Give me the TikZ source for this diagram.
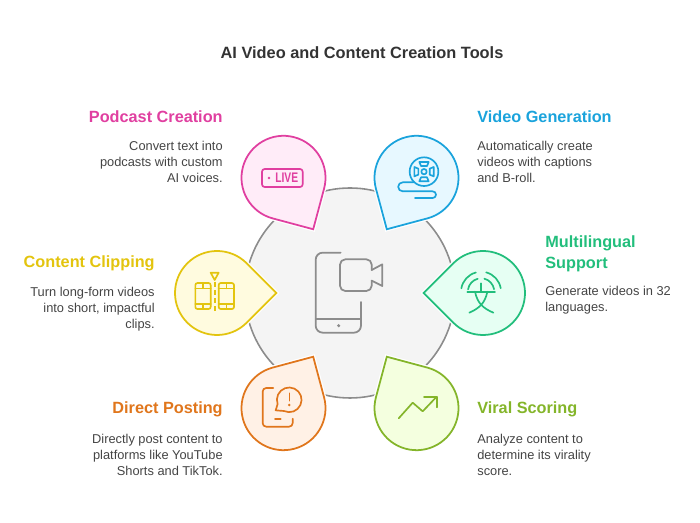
\documentclass[tikz,border=0pt]{standalone}
\usepackage{fontspec}
\setmainfont{Liberation Sans}
\usepackage{xcolor}
\usetikzlibrary{arrows.meta, calc}
\definecolor{ink}{HTML}{333333}
\definecolor{muted}{HTML}{444444}
\definecolor{rim}{HTML}{8C8C8C}
\definecolor{wash}{HTML}{F4F4F4}
\definecolor{podcast}{HTML}{E03FA0}
\definecolor{podcastsoft}{HTML}{FFECF8}
\definecolor{video}{HTML}{1AA3DC}
\definecolor{videosoft}{HTML}{E7F8FF}
\definecolor{lingual}{HTML}{22BE7C}
\definecolor{lingualsoft}{HTML}{E6FFF3}
\definecolor{viral}{HTML}{84B52A}
\definecolor{viralsoft}{HTML}{F4FFDF}
\definecolor{posting}{HTML}{E0761C}
\definecolor{postingsoft}{HTML}{FFF1E6}
\definecolor{clipping}{HTML}{E3C40E}
\definecolor{clippingsoft}{HTML}{FFFBDF}
\tikzset{
  hub/.style={draw=rim, line width=0.9pt, fill=wash},
  %
  drop/.style={line width=1pt, miter limit=10, preaction={draw=white, line width=2.4pt}},
  %
  ttl/.style={font=\bfseries\fontsize{9.3}{11}\selectfont, text=ink, inner sep=0pt},
  head/.style={font=\bfseries\fontsize{9.25}{11.9}\selectfont, inner sep=0pt},
  bodyr/.style={font=\fontsize{7.3}{9.07}\selectfont, text=muted, inner sep=0pt, align=right, anchor=east},
  bodyl/.style={font=\fontsize{7.3}{9.07}\selectfont, text=muted, inner sep=0pt, align=left, anchor=west},
  %
  glyph/.style={line width=0.95pt, line cap=round, line join=round},
  grid3/.style={x=0.006667cm, y=-0.006667cm},
}
\begin{document}
\begin{tikzpicture}[x=1cm, y=1cm]

  \useasboundingbox (0,0) rectangle (14,10.46);

  % --- the hub ------------------------------------------------------------
  \coordinate (hubc) at (7,4.6);
  \draw[hub] (hubc) circle[radius=2.1cm];

  % --- the six drops, each with its tip towards the hub -------------------
  \foreach \ang/\col in {120/podcast, 60/video, 180/clipping, 0/lingual, 240/posting, 300/viral} {
    \begin{scope}[shift={(hubc)}, rotate=\ang]
      \draw[drop, draw=\col, fill=\col soft] (2.66,0) ++(225:0.84) arc (225:495:0.84)
        -- (1.472,0) -- cycle;
    \end{scope}
  }

  % --- hub icon -------------------------------------------------------------
  \begin{scope}[shift={(6cm,5.66cm)}, grid3, glyph, draw=rim, line width=1pt]
    \draw[rounded corners=4pt] (122,38) -- (47,38) -- (47,278) -- (183,278) -- (183,186);
    \draw (47,236) -- (183,236);
    \fill[rim] (116,257) circle[radius=0.034cm];
    \draw[rounded corners=3pt] (215,90) -- (215,58) -- (120,58) -- (120,153) -- (215,153) -- (215,122);
    \draw (215,90) -- (247,73) -- (247,138) -- (215,122);
  \end{scope}

  % --- podcast icon ---------------------------------------------------------
  \begin{scope}[shift={(3.4cm,8.06cm)}, grid3, glyph, draw=podcast]
    \draw[rounded corners=1.5pt] (276,147) rectangle (398,201);
    \fill[podcast] (297,174) circle[radius=0.028cm];
    \node[inner sep=0pt, text=podcast, font=\bfseries\fontsize{7.9}{9}\selectfont] (livetxt) at (350,174)
      {\scalebox{0.74}[1]{LIVE}};
  \end{scope}

  % --- clipping icon --------------------------------------------------------
  \begin{scope}[shift={(3.4cm,8.06cm)}, grid3, glyph, draw=clipping]
    \draw[rounded corners=1.2pt] (76,489) rectangle (122,567);
    \draw[rounded corners=1.2pt] (146,489) rectangle (192,567);
    \foreach \x in {76,146} {
      \draw (\x,505) -- ++(46,0);
      \draw (\x,552) -- ++(46,0);
      \draw (\x+23,489) -- ++(0,16);
      \draw (\x+23,552) -- ++(0,15);
    }
    \draw (122,458) -- (146,458) -- (134,480) -- cycle;
    \draw[line cap=butt, dash pattern=on 2.8pt off 1.9pt] (134,485) -- (134,580);
  \end{scope}

  % --- video icon -----------------------------------------------------------
  \begin{scope}[shift={(7cm,8.06cm)}, grid3, glyph, draw=video]
    \draw (222,155) circle[radius=0.287cm];
    \draw (222,155) circle[radius=0.054cm];
    \draw (208,126) -- (236,126) -- (231,138) -- (213,138) -- cycle;
    \draw (208,184) -- (236,184) -- (231,172) -- (213,172) -- cycle;
    \draw (193,141) -- (193,169) -- (205,164) -- (205,146) -- cycle;
    \draw (251,141) -- (251,169) -- (239,164) -- (239,146) -- cycle;
    \draw (190,187) -- (158,187) arc[start angle=90, end angle=270, radius=0.09cm]
      -- (248,214) arc[start angle=90, end angle=-90, radius=0.0667cm] -- (195,234);
  \end{scope}

  % --- lingual icon ---------------------------------------------------------
  \begin{scope}[shift={(7cm,8.06cm)}, grid3, glyph, draw=lingual]
    \draw (334,505) arc[start angle=170, end angle=105, radius=0.4cm];
    \draw (408.5,457) arc[start angle=75, end angle=10, radius=0.4cm];
    \draw (354,508) arc[start angle=170, end angle=105, radius=0.267cm];
    \draw (403,476) arc[start angle=75, end angle=10, radius=0.267cm];
    \draw (352,515) -- (435,515);
    \draw (393,490) -- (393,515);
    \draw (375,515) .. controls (382,550) and (400,565) .. (430,578);
    \draw (412,515) .. controls (405,550) and (387,565) .. (358,578);
  \end{scope}

  % --- posting icon ---------------------------------------------------------
  \begin{scope}[shift={(4.6cm,3.86cm)}, grid3, glyph, draw=posting]
    \draw[rounded corners=2pt] (130,174) -- (98,174) -- (98,290) -- (188,290) -- (188,266);
    \draw (135,267) -- (152,267);
    \draw (162,243) arc[start angle=245, end angle=560, radius=0.2467cm] -- (137,241) -- cycle;
    \draw (178,190) -- (178,212);
    \fill[posting] (178,225) circle[radius=0.028cm];
  \end{scope}

  % --- viral icon -----------------------------------------------------------
  \begin{scope}[shift={(4.6cm,3.86cm)}, grid3, glyph, draw=viral]
    \draw (506,265) -- (548,218) -- (578,244) -- (620,200);
    \draw (582,200) -- (620,200) -- (620,232);
  \end{scope}

  % --- texts ----------------------------------------------------------------
  \node[ttl] (title) at (7.24,9.4) {AI Video and Content Creation Tools};

  \node[head, text=podcast, anchor=east] (podhead) at (4.46,8.13) {Podcast Creation};
  \node[bodyr] (podbody) at (4.46,7.22) {Convert text into\\podcasts with custom\\AI voices.};

  \node[head, text=video, anchor=west] (vidhead) at (9.54,8.13) {Video Generation};
  \node[bodyl] (vidbody) at (9.54,7.22) {Automatically create\\videos with captions\\and B-roll.};

  \node[head, text=clipping, anchor=east] (cliphead) at (3.1,5.2) {Content Clipping};
  \node[bodyr] (clipbody) at (3.1,4.28) {Turn long-form videos\\into short, impactful\\clips.};

  \node[head, text=lingual, anchor=west, align=left] (linghead) at (10.9,5.39) {Multilingual\\Support};
  \node[bodyl] (lingbody) at (10.9,4.46) {Generate videos in 32\\languages.};

  \node[head, text=posting, anchor=east] (posthead) at (4.46,2.28) {Direct Posting};
  \node[bodyr] (postbody) at (4.46,1.36) {Directly post content to\\platforms like YouTube\\Shorts and TikTok.};

  \node[head, text=viral, anchor=west] (virhead) at (9.54,2.28) {Viral Scoring};
  \node[bodyl] (virbody) at (9.54,1.36) {Analyze content to\\determine its virality\\score.};

\end{tikzpicture}
\end{document}
